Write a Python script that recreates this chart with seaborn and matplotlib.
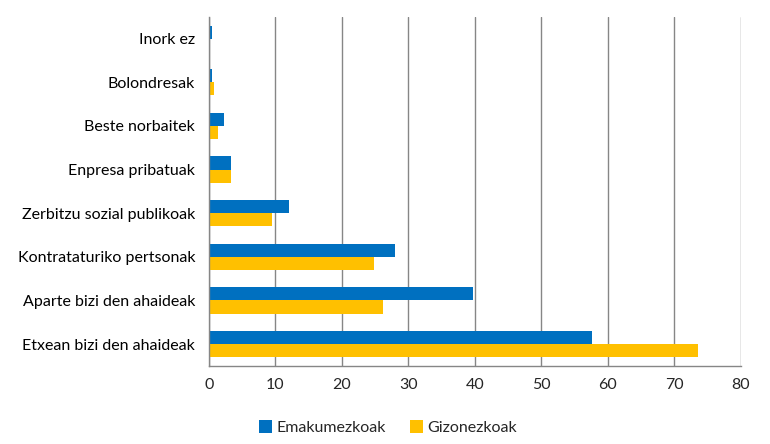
import matplotlib.pyplot as plt
import seaborn as sns
import numpy as np
import pandas as pd

categories = ["Inork ez", "Bolondresak", "Beste norbaitek", "Enpresa pribatuak",
              "Zerbitzu sozial publikoak", "Kontrataturiko pertsonak",
              "Aparte bizi den ahaideak", "Etxean bizi den ahaideak"]
emakumezkoak = [0.4, 0.4, 2.2, 3.3, 12.0, 28.0, 39.7, 57.6]
gizonezkoak = [0.0, 0.7, 1.3, 3.3, 9.5, 24.8, 26.2, 73.5]
series = ["Emakumezkoak", "Gizonezkoak"]
colors = ["#0070C0", "#FFC000"]
xticks = [0, 10, 20, 30, 40, 50, 60, 70, 80]

df = pd.DataFrame({
    "kategoria": categories * 2,
    "balioa": emakumezkoak + gizonezkoak,
    "taldea": [series[0]] * len(categories) + [series[1]] * len(categories),
})

sns.set_style("white")
plt.rcParams["font.family"] = ["Lato", "DejaVu Sans"]

fig, ax = plt.subplots(figsize=(7.7, 4.44), dpi=100)
fig.subplots_adjust(left=0.2714, right=0.9623, top=0.962, bottom=0.176)

sns.barplot(data=df, x="balioa", y="kategoria", hue="taldea", order=categories,
            hue_order=series, palette=colors, width=0.6, saturation=1,
            errorbar=None, linewidth=0, ax=ax)

ax.set_xlim(0, 80)
ax.set_ylim(len(categories) - 0.5, -0.5)
ax.set_xticks(xticks)
ax.set_xlabel("")
ax.set_ylabel("")
ax.xaxis.grid(True, color="#868686", linewidth=1)
ax.set_axisbelow(True)

for side in ["top", "right"]:
    ax.spines[side].set_visible(False)
for side in ["left", "bottom"]:
    ax.spines[side].set_color("#868686")
    ax.spines[side].set_linewidth(1)

# tick marks between the categories, like the original
ax.tick_params(axis="y", which="major", length=0, labelsize=11.5, pad=10, colors="#000000")
ax.set_yticks(np.arange(-0.5, len(categories), 1), minor=True)
ax.tick_params(axis="y", which="minor", length=5, color="#868686", direction="out")
ax.tick_params(axis="x", length=5, color="#868686", labelsize=11.5, pad=4)

ax.legend(loc="upper center", bbox_to_anchor=(0.337, -0.115), ncol=2, frameon=False,
          handlelength=0.8, handleheight=0.8, handletextpad=0.3, columnspacing=1.5,
          fontsize=11.5)

plt.savefig("out.png", dpi=100)
